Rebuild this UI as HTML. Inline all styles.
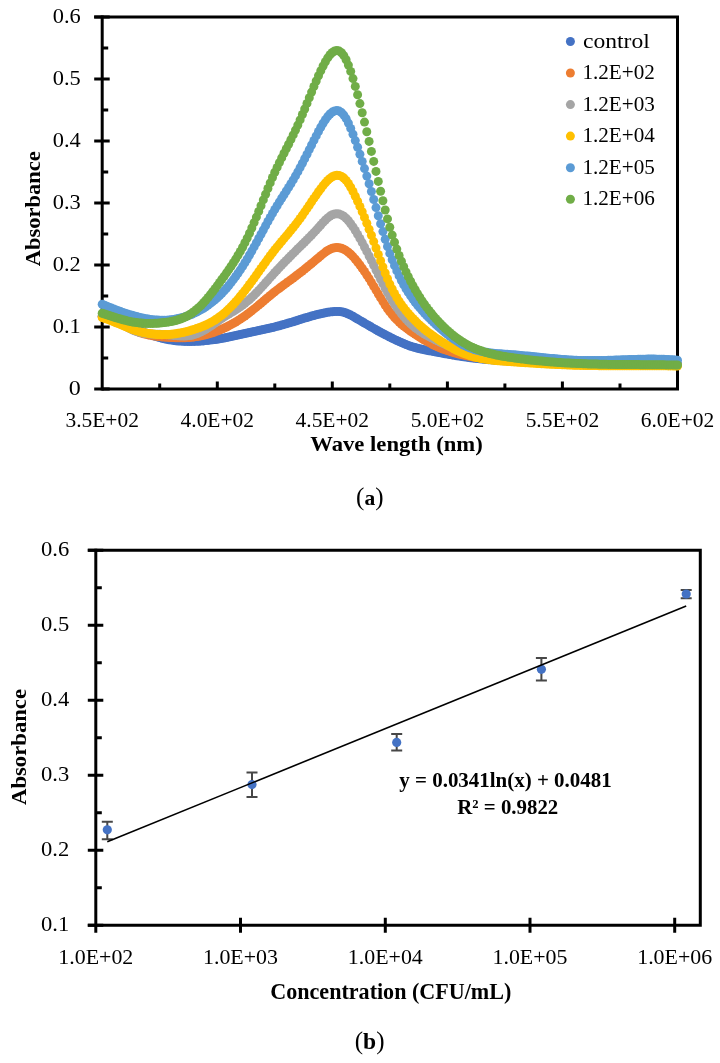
<!DOCTYPE html>
<html><head><meta charset="utf-8"><title>Absorbance charts</title>
<style>html,body{margin:0;padding:0;background:#fff;width:720px;height:1063px;overflow:hidden}svg{will-change:transform}svg text{font-family:'Liberation Serif',serif;fill:#000}</style>
</head><body>
<svg width="720" height="1063" viewBox="0 0 720 1063" style="display:block;font-family:'Liberation Serif',serif">
<path d="M94.2 17.0 H677.5 V389.0 H102.2" fill="none" stroke="#000" stroke-width="3" stroke-linejoin="miter"/><line x1="102.2" y1="15.5" x2="102.2" y2="390.5" stroke="#000" stroke-width="3"/><path d="M94.2 389.0H109.7M94.2 327.0H109.7M94.2 265.0H109.7M94.2 203.0H109.7M94.2 141.0H109.7M94.2 79.0H109.7M94.2 17.0H109.7M102.2 358.0H108.2M102.2 296.0H108.2M102.2 234.0H108.2M102.2 172.0H108.2M102.2 110.0H108.2M102.2 48.0H108.2M217.3 389.0V381.5M332.3 389.0V381.5M447.4 389.0V381.5M562.4 389.0V381.5M159.7 389.0V383.5M274.8 389.0V383.5M389.8 389.0V383.5M504.9 389.0V383.5M620.0 389.0V383.5" stroke="#000" stroke-width="3" fill="none"/><g fill="#4472C4"><circle cx="102.2" cy="316.1" r="4.5"/><circle cx="104.5" cy="316.8" r="4.5"/><circle cx="106.8" cy="317.6" r="4.5"/><circle cx="109.1" cy="318.4" r="4.5"/><circle cx="111.4" cy="319.2" r="4.5"/><circle cx="113.7" cy="320.1" r="4.5"/><circle cx="116.0" cy="320.9" r="4.5"/><circle cx="118.3" cy="321.8" r="4.5"/><circle cx="120.6" cy="322.7" r="4.5"/><circle cx="122.9" cy="323.7" r="4.5"/><circle cx="125.2" cy="324.6" r="4.5"/><circle cx="127.5" cy="325.5" r="4.5"/><circle cx="129.8" cy="326.5" r="4.5"/><circle cx="132.1" cy="327.4" r="4.5"/><circle cx="134.4" cy="328.4" r="4.5"/><circle cx="136.7" cy="329.3" r="4.5"/><circle cx="139.0" cy="330.2" r="4.5"/><circle cx="141.3" cy="331.2" r="4.5"/><circle cx="143.6" cy="332.1" r="4.5"/><circle cx="145.9" cy="332.9" r="4.5"/><circle cx="148.2" cy="333.8" r="4.5"/><circle cx="150.5" cy="334.6" r="4.5"/><circle cx="152.8" cy="335.4" r="4.5"/><circle cx="155.1" cy="336.2" r="4.5"/><circle cx="157.4" cy="336.9" r="4.5"/><circle cx="159.7" cy="337.6" r="4.5"/><circle cx="162.0" cy="338.2" r="4.5"/><circle cx="164.3" cy="338.8" r="4.5"/><circle cx="166.6" cy="339.3" r="4.5"/><circle cx="168.9" cy="339.7" r="4.5"/><circle cx="171.2" cy="340.1" r="4.5"/><circle cx="173.5" cy="340.4" r="4.5"/><circle cx="175.8" cy="340.7" r="4.5"/><circle cx="178.1" cy="341.0" r="4.5"/><circle cx="180.4" cy="341.1" r="4.5"/><circle cx="182.7" cy="341.3" r="4.5"/><circle cx="185.0" cy="341.4" r="4.5"/><circle cx="187.3" cy="341.4" r="4.5"/><circle cx="189.6" cy="341.5" r="4.5"/><circle cx="191.9" cy="341.4" r="4.5"/><circle cx="194.2" cy="341.4" r="4.5"/><circle cx="196.5" cy="341.3" r="4.5"/><circle cx="198.9" cy="341.2" r="4.5"/><circle cx="201.2" cy="341.0" r="4.5"/><circle cx="203.5" cy="340.9" r="4.5"/><circle cx="205.8" cy="340.6" r="4.5"/><circle cx="208.1" cy="340.4" r="4.5"/><circle cx="210.4" cy="340.1" r="4.5"/><circle cx="212.7" cy="339.8" r="4.5"/><circle cx="215.0" cy="339.5" r="4.5"/><circle cx="217.3" cy="339.2" r="4.5"/><circle cx="219.6" cy="338.8" r="4.5"/><circle cx="221.9" cy="338.4" r="4.5"/><circle cx="224.2" cy="338.0" r="4.5"/><circle cx="226.5" cy="337.5" r="4.5"/><circle cx="228.8" cy="337.1" r="4.5"/><circle cx="231.1" cy="336.6" r="4.5"/><circle cx="233.4" cy="336.1" r="4.5"/><circle cx="235.7" cy="335.6" r="4.5"/><circle cx="238.0" cy="335.1" r="4.5"/><circle cx="240.3" cy="334.5" r="4.5"/><circle cx="242.6" cy="334.0" r="4.5"/><circle cx="244.9" cy="333.5" r="4.5"/><circle cx="247.2" cy="333.0" r="4.5"/><circle cx="249.5" cy="332.5" r="4.5"/><circle cx="251.8" cy="332.0" r="4.5"/><circle cx="254.1" cy="331.5" r="4.5"/><circle cx="256.4" cy="331.0" r="4.5"/><circle cx="258.7" cy="330.6" r="4.5"/><circle cx="261.0" cy="330.1" r="4.5"/><circle cx="263.3" cy="329.6" r="4.5"/><circle cx="265.6" cy="329.1" r="4.5"/><circle cx="267.9" cy="328.5" r="4.5"/><circle cx="270.2" cy="328.0" r="4.5"/><circle cx="272.5" cy="327.5" r="4.5"/><circle cx="274.8" cy="326.9" r="4.5"/><circle cx="277.1" cy="326.3" r="4.5"/><circle cx="279.4" cy="325.7" r="4.5"/><circle cx="281.7" cy="325.0" r="4.5"/><circle cx="284.0" cy="324.4" r="4.5"/><circle cx="286.3" cy="323.7" r="4.5"/><circle cx="288.6" cy="323.0" r="4.5"/><circle cx="290.9" cy="322.4" r="4.5"/><circle cx="293.2" cy="321.7" r="4.5"/><circle cx="295.5" cy="321.0" r="4.5"/><circle cx="297.8" cy="320.3" r="4.5"/><circle cx="300.1" cy="319.5" r="4.5"/><circle cx="302.4" cy="318.8" r="4.5"/><circle cx="304.7" cy="318.1" r="4.5"/><circle cx="307.0" cy="317.5" r="4.5"/><circle cx="309.3" cy="316.8" r="4.5"/><circle cx="311.6" cy="316.1" r="4.5"/><circle cx="313.9" cy="315.5" r="4.5"/><circle cx="316.2" cy="314.8" r="4.5"/><circle cx="318.5" cy="314.3" r="4.5"/><circle cx="320.8" cy="313.7" r="4.5"/><circle cx="323.1" cy="313.2" r="4.5"/><circle cx="325.4" cy="312.7" r="4.5"/><circle cx="327.7" cy="312.3" r="4.5"/><circle cx="330.0" cy="311.9" r="4.5"/><circle cx="332.3" cy="311.7" r="4.5"/><circle cx="334.6" cy="311.5" r="4.5"/><circle cx="336.9" cy="311.4" r="4.5"/><circle cx="339.2" cy="311.5" r="4.5"/><circle cx="341.5" cy="311.8" r="4.5"/><circle cx="343.8" cy="312.3" r="4.5"/><circle cx="346.1" cy="313.0" r="4.5"/><circle cx="348.4" cy="314.0" r="4.5"/><circle cx="350.7" cy="315.1" r="4.5"/><circle cx="353.0" cy="316.3" r="4.5"/><circle cx="355.3" cy="317.7" r="4.5"/><circle cx="357.6" cy="319.0" r="4.5"/><circle cx="359.9" cy="320.4" r="4.5"/><circle cx="362.2" cy="321.7" r="4.5"/><circle cx="364.5" cy="323.1" r="4.5"/><circle cx="366.8" cy="324.4" r="4.5"/><circle cx="369.1" cy="325.7" r="4.5"/><circle cx="371.4" cy="327.1" r="4.5"/><circle cx="373.7" cy="328.4" r="4.5"/><circle cx="376.0" cy="329.7" r="4.5"/><circle cx="378.3" cy="331.0" r="4.5"/><circle cx="380.6" cy="332.2" r="4.5"/><circle cx="382.9" cy="333.5" r="4.5"/><circle cx="385.2" cy="334.7" r="4.5"/><circle cx="387.5" cy="335.9" r="4.5"/><circle cx="389.8" cy="337.1" r="4.5"/><circle cx="392.2" cy="338.3" r="4.5"/><circle cx="394.5" cy="339.4" r="4.5"/><circle cx="396.8" cy="340.5" r="4.5"/><circle cx="399.1" cy="341.6" r="4.5"/><circle cx="401.4" cy="342.6" r="4.5"/><circle cx="403.7" cy="343.6" r="4.5"/><circle cx="406.0" cy="344.5" r="4.5"/><circle cx="408.3" cy="345.4" r="4.5"/><circle cx="410.6" cy="346.2" r="4.5"/><circle cx="412.9" cy="346.9" r="4.5"/><circle cx="415.2" cy="347.6" r="4.5"/><circle cx="417.5" cy="348.2" r="4.5"/><circle cx="419.8" cy="348.8" r="4.5"/><circle cx="422.1" cy="349.3" r="4.5"/><circle cx="424.4" cy="349.8" r="4.5"/><circle cx="426.7" cy="350.3" r="4.5"/><circle cx="429.0" cy="350.7" r="4.5"/><circle cx="431.3" cy="351.1" r="4.5"/><circle cx="433.6" cy="351.6" r="4.5"/><circle cx="435.9" cy="352.0" r="4.5"/><circle cx="438.2" cy="352.4" r="4.5"/><circle cx="440.5" cy="352.8" r="4.5"/><circle cx="442.8" cy="353.2" r="4.5"/><circle cx="445.1" cy="353.7" r="4.5"/><circle cx="447.4" cy="354.1" r="4.5"/><circle cx="449.7" cy="354.5" r="4.5"/><circle cx="452.0" cy="354.9" r="4.5"/><circle cx="454.3" cy="355.3" r="4.5"/><circle cx="456.6" cy="355.7" r="4.5"/><circle cx="458.9" cy="356.1" r="4.5"/><circle cx="461.2" cy="356.4" r="4.5"/><circle cx="463.5" cy="356.8" r="4.5"/><circle cx="465.8" cy="357.1" r="4.5"/><circle cx="468.1" cy="357.4" r="4.5"/><circle cx="470.4" cy="357.7" r="4.5"/><circle cx="472.7" cy="358.0" r="4.5"/><circle cx="475.0" cy="358.3" r="4.5"/><circle cx="477.3" cy="358.5" r="4.5"/><circle cx="479.6" cy="358.8" r="4.5"/><circle cx="481.9" cy="359.0" r="4.5"/><circle cx="484.2" cy="359.3" r="4.5"/><circle cx="486.5" cy="359.5" r="4.5"/><circle cx="488.8" cy="359.7" r="4.5"/><circle cx="491.1" cy="359.8" r="4.5"/><circle cx="493.4" cy="360.0" r="4.5"/><circle cx="495.7" cy="360.2" r="4.5"/><circle cx="498.0" cy="360.4" r="4.5"/><circle cx="500.3" cy="360.5" r="4.5"/><circle cx="502.6" cy="360.7" r="4.5"/><circle cx="504.9" cy="360.8" r="4.5"/><circle cx="507.2" cy="360.9" r="4.5"/><circle cx="509.5" cy="361.1" r="4.5"/><circle cx="511.8" cy="361.2" r="4.5"/><circle cx="514.1" cy="361.3" r="4.5"/><circle cx="516.4" cy="361.4" r="4.5"/><circle cx="518.7" cy="361.5" r="4.5"/><circle cx="521.0" cy="361.6" r="4.5"/><circle cx="523.3" cy="361.7" r="4.5"/><circle cx="525.6" cy="361.8" r="4.5"/><circle cx="527.9" cy="361.9" r="4.5"/><circle cx="530.2" cy="362.0" r="4.5"/><circle cx="532.5" cy="362.1" r="4.5"/><circle cx="534.8" cy="362.1" r="4.5"/><circle cx="537.1" cy="362.2" r="4.5"/><circle cx="539.4" cy="362.3" r="4.5"/><circle cx="541.7" cy="362.4" r="4.5"/><circle cx="544.0" cy="362.4" r="4.5"/><circle cx="546.3" cy="362.5" r="4.5"/><circle cx="548.6" cy="362.5" r="4.5"/><circle cx="550.9" cy="362.6" r="4.5"/><circle cx="553.2" cy="362.6" r="4.5"/><circle cx="555.5" cy="362.7" r="4.5"/><circle cx="557.8" cy="362.7" r="4.5"/><circle cx="560.1" cy="362.8" r="4.5"/><circle cx="562.4" cy="362.8" r="4.5"/><circle cx="564.7" cy="362.9" r="4.5"/><circle cx="567.0" cy="362.9" r="4.5"/><circle cx="569.3" cy="362.9" r="4.5"/><circle cx="571.6" cy="363.0" r="4.5"/><circle cx="573.9" cy="363.0" r="4.5"/><circle cx="576.2" cy="363.0" r="4.5"/><circle cx="578.5" cy="363.1" r="4.5"/><circle cx="580.8" cy="363.1" r="4.5"/><circle cx="583.2" cy="363.1" r="4.5"/><circle cx="585.5" cy="363.1" r="4.5"/><circle cx="587.8" cy="363.2" r="4.5"/><circle cx="590.1" cy="363.2" r="4.5"/><circle cx="592.4" cy="363.2" r="4.5"/><circle cx="594.7" cy="363.2" r="4.5"/><circle cx="597.0" cy="363.3" r="4.5"/><circle cx="599.3" cy="363.3" r="4.5"/><circle cx="601.6" cy="363.3" r="4.5"/><circle cx="603.9" cy="363.3" r="4.5"/><circle cx="606.2" cy="363.3" r="4.5"/><circle cx="608.5" cy="363.4" r="4.5"/><circle cx="610.8" cy="363.4" r="4.5"/><circle cx="613.1" cy="363.4" r="4.5"/><circle cx="615.4" cy="363.4" r="4.5"/><circle cx="617.7" cy="363.4" r="4.5"/><circle cx="620.0" cy="363.5" r="4.5"/><circle cx="622.3" cy="363.5" r="4.5"/><circle cx="624.6" cy="363.5" r="4.5"/><circle cx="626.9" cy="363.5" r="4.5"/><circle cx="629.2" cy="363.5" r="4.5"/><circle cx="631.5" cy="363.5" r="4.5"/><circle cx="633.8" cy="363.6" r="4.5"/><circle cx="636.1" cy="363.6" r="4.5"/><circle cx="638.4" cy="363.6" r="4.5"/><circle cx="640.7" cy="363.6" r="4.5"/><circle cx="643.0" cy="363.6" r="4.5"/><circle cx="645.3" cy="363.7" r="4.5"/><circle cx="647.6" cy="363.7" r="4.5"/><circle cx="649.9" cy="363.7" r="4.5"/><circle cx="652.2" cy="363.7" r="4.5"/><circle cx="654.5" cy="363.7" r="4.5"/><circle cx="656.8" cy="363.8" r="4.5"/><circle cx="659.1" cy="363.8" r="4.5"/><circle cx="661.4" cy="363.8" r="4.5"/><circle cx="663.7" cy="363.8" r="4.5"/><circle cx="666.0" cy="363.9" r="4.5"/><circle cx="668.3" cy="363.9" r="4.5"/><circle cx="670.6" cy="363.9" r="4.5"/><circle cx="672.9" cy="363.9" r="4.5"/><circle cx="675.2" cy="364.0" r="4.5"/><circle cx="677.5" cy="364.0" r="4.5"/></g><g fill="#ED7D31"><circle cx="102.2" cy="316.5" r="4.5"/><circle cx="104.5" cy="316.9" r="4.5"/><circle cx="106.8" cy="317.4" r="4.5"/><circle cx="109.1" cy="318.1" r="4.5"/><circle cx="111.4" cy="318.9" r="4.5"/><circle cx="113.7" cy="319.9" r="4.5"/><circle cx="116.0" cy="320.9" r="4.5"/><circle cx="118.3" cy="322.1" r="4.5"/><circle cx="120.6" cy="323.3" r="4.5"/><circle cx="122.9" cy="324.5" r="4.5"/><circle cx="125.2" cy="325.8" r="4.5"/><circle cx="127.5" cy="327.0" r="4.5"/><circle cx="129.8" cy="328.2" r="4.5"/><circle cx="132.1" cy="329.3" r="4.5"/><circle cx="134.4" cy="330.4" r="4.5"/><circle cx="136.7" cy="331.4" r="4.5"/><circle cx="139.0" cy="332.3" r="4.5"/><circle cx="141.3" cy="333.0" r="4.5"/><circle cx="143.6" cy="333.7" r="4.5"/><circle cx="145.9" cy="334.3" r="4.5"/><circle cx="148.2" cy="334.9" r="4.5"/><circle cx="150.5" cy="335.3" r="4.5"/><circle cx="152.8" cy="335.7" r="4.5"/><circle cx="155.1" cy="336.1" r="4.5"/><circle cx="157.4" cy="336.4" r="4.5"/><circle cx="159.7" cy="336.6" r="4.5"/><circle cx="162.0" cy="336.9" r="4.5"/><circle cx="164.3" cy="337.1" r="4.5"/><circle cx="166.6" cy="337.2" r="4.5"/><circle cx="168.9" cy="337.4" r="4.5"/><circle cx="171.2" cy="337.5" r="4.5"/><circle cx="173.5" cy="337.6" r="4.5"/><circle cx="175.8" cy="337.7" r="4.5"/><circle cx="178.1" cy="337.8" r="4.5"/><circle cx="180.4" cy="337.8" r="4.5"/><circle cx="182.7" cy="337.7" r="4.5"/><circle cx="185.0" cy="337.7" r="4.5"/><circle cx="187.3" cy="337.6" r="4.5"/><circle cx="189.6" cy="337.4" r="4.5"/><circle cx="191.9" cy="337.2" r="4.5"/><circle cx="194.2" cy="336.9" r="4.5"/><circle cx="196.5" cy="336.6" r="4.5"/><circle cx="198.9" cy="336.2" r="4.5"/><circle cx="201.2" cy="335.8" r="4.5"/><circle cx="203.5" cy="335.3" r="4.5"/><circle cx="205.8" cy="334.7" r="4.5"/><circle cx="208.1" cy="334.1" r="4.5"/><circle cx="210.4" cy="333.4" r="4.5"/><circle cx="212.7" cy="332.7" r="4.5"/><circle cx="215.0" cy="331.9" r="4.5"/><circle cx="217.3" cy="331.0" r="4.5"/><circle cx="219.6" cy="330.1" r="4.5"/><circle cx="221.9" cy="329.1" r="4.5"/><circle cx="224.2" cy="328.1" r="4.5"/><circle cx="226.5" cy="327.0" r="4.5"/><circle cx="228.8" cy="325.8" r="4.5"/><circle cx="231.1" cy="324.6" r="4.5"/><circle cx="233.4" cy="323.3" r="4.5"/><circle cx="235.7" cy="322.0" r="4.5"/><circle cx="238.0" cy="320.6" r="4.5"/><circle cx="240.3" cy="319.1" r="4.5"/><circle cx="242.6" cy="317.6" r="4.5"/><circle cx="244.9" cy="316.0" r="4.5"/><circle cx="247.2" cy="314.3" r="4.5"/><circle cx="249.5" cy="312.6" r="4.5"/><circle cx="251.8" cy="310.8" r="4.5"/><circle cx="254.1" cy="308.9" r="4.5"/><circle cx="256.4" cy="307.1" r="4.5"/><circle cx="258.7" cy="305.1" r="4.5"/><circle cx="261.0" cy="303.2" r="4.5"/><circle cx="263.3" cy="301.3" r="4.5"/><circle cx="265.6" cy="299.3" r="4.5"/><circle cx="267.9" cy="297.4" r="4.5"/><circle cx="270.2" cy="295.5" r="4.5"/><circle cx="272.5" cy="293.6" r="4.5"/><circle cx="274.8" cy="291.7" r="4.5"/><circle cx="277.1" cy="289.9" r="4.5"/><circle cx="279.4" cy="288.2" r="4.5"/><circle cx="281.7" cy="286.5" r="4.5"/><circle cx="284.0" cy="284.8" r="4.5"/><circle cx="286.3" cy="283.1" r="4.5"/><circle cx="288.6" cy="281.4" r="4.5"/><circle cx="290.9" cy="279.7" r="4.5"/><circle cx="293.2" cy="278.0" r="4.5"/><circle cx="295.5" cy="276.3" r="4.5"/><circle cx="297.8" cy="274.5" r="4.5"/><circle cx="300.1" cy="272.8" r="4.5"/><circle cx="302.4" cy="271.0" r="4.5"/><circle cx="304.7" cy="269.1" r="4.5"/><circle cx="307.0" cy="267.3" r="4.5"/><circle cx="309.3" cy="265.4" r="4.5"/><circle cx="311.6" cy="263.5" r="4.5"/><circle cx="313.9" cy="261.6" r="4.5"/><circle cx="316.2" cy="259.6" r="4.5"/><circle cx="318.5" cy="257.7" r="4.5"/><circle cx="320.8" cy="255.7" r="4.5"/><circle cx="323.1" cy="253.9" r="4.5"/><circle cx="325.4" cy="252.1" r="4.5"/><circle cx="327.7" cy="250.5" r="4.5"/><circle cx="330.0" cy="249.3" r="4.5"/><circle cx="332.3" cy="248.3" r="4.5"/><circle cx="334.6" cy="247.7" r="4.5"/><circle cx="336.9" cy="247.5" r="4.5"/><circle cx="339.2" cy="247.7" r="4.5"/><circle cx="341.5" cy="248.3" r="4.5"/><circle cx="343.8" cy="249.2" r="4.5"/><circle cx="346.1" cy="250.6" r="4.5"/><circle cx="348.4" cy="252.3" r="4.5"/><circle cx="350.7" cy="254.3" r="4.5"/><circle cx="353.0" cy="256.6" r="4.5"/><circle cx="355.3" cy="259.2" r="4.5"/><circle cx="357.6" cy="262.0" r="4.5"/><circle cx="359.9" cy="265.0" r="4.5"/><circle cx="362.2" cy="268.2" r="4.5"/><circle cx="364.5" cy="271.5" r="4.5"/><circle cx="366.8" cy="275.0" r="4.5"/><circle cx="369.1" cy="278.6" r="4.5"/><circle cx="371.4" cy="282.4" r="4.5"/><circle cx="373.7" cy="286.2" r="4.5"/><circle cx="376.0" cy="290.1" r="4.5"/><circle cx="378.3" cy="294.0" r="4.5"/><circle cx="380.6" cy="297.9" r="4.5"/><circle cx="382.9" cy="301.6" r="4.5"/><circle cx="385.2" cy="305.2" r="4.5"/><circle cx="387.5" cy="308.7" r="4.5"/><circle cx="389.8" cy="311.9" r="4.5"/><circle cx="392.2" cy="314.8" r="4.5"/><circle cx="394.5" cy="317.5" r="4.5"/><circle cx="396.8" cy="319.9" r="4.5"/><circle cx="399.1" cy="322.1" r="4.5"/><circle cx="401.4" cy="324.2" r="4.5"/><circle cx="403.7" cy="326.1" r="4.5"/><circle cx="406.0" cy="327.9" r="4.5"/><circle cx="408.3" cy="329.6" r="4.5"/><circle cx="410.6" cy="331.2" r="4.5"/><circle cx="412.9" cy="332.8" r="4.5"/><circle cx="415.2" cy="334.3" r="4.5"/><circle cx="417.5" cy="335.8" r="4.5"/><circle cx="419.8" cy="337.3" r="4.5"/><circle cx="422.1" cy="338.7" r="4.5"/><circle cx="424.4" cy="340.1" r="4.5"/><circle cx="426.7" cy="341.4" r="4.5"/><circle cx="429.0" cy="342.6" r="4.5"/><circle cx="431.3" cy="343.8" r="4.5"/><circle cx="433.6" cy="345.0" r="4.5"/><circle cx="435.9" cy="346.1" r="4.5"/><circle cx="438.2" cy="347.1" r="4.5"/><circle cx="440.5" cy="348.0" r="4.5"/><circle cx="442.8" cy="349.0" r="4.5"/><circle cx="445.1" cy="349.8" r="4.5"/><circle cx="447.4" cy="350.6" r="4.5"/><circle cx="449.7" cy="351.4" r="4.5"/><circle cx="452.0" cy="352.1" r="4.5"/><circle cx="454.3" cy="352.8" r="4.5"/><circle cx="456.6" cy="353.4" r="4.5"/><circle cx="458.9" cy="354.0" r="4.5"/><circle cx="461.2" cy="354.5" r="4.5"/><circle cx="463.5" cy="355.1" r="4.5"/><circle cx="465.8" cy="355.6" r="4.5"/><circle cx="468.1" cy="356.0" r="4.5"/><circle cx="470.4" cy="356.4" r="4.5"/><circle cx="472.7" cy="356.9" r="4.5"/><circle cx="475.0" cy="357.2" r="4.5"/><circle cx="477.3" cy="357.6" r="4.5"/><circle cx="479.6" cy="357.9" r="4.5"/><circle cx="481.9" cy="358.2" r="4.5"/><circle cx="484.2" cy="358.5" r="4.5"/><circle cx="486.5" cy="358.8" r="4.5"/><circle cx="488.8" cy="359.1" r="4.5"/><circle cx="491.1" cy="359.3" r="4.5"/><circle cx="493.4" cy="359.5" r="4.5"/><circle cx="495.7" cy="359.7" r="4.5"/><circle cx="498.0" cy="359.9" r="4.5"/><circle cx="500.3" cy="360.1" r="4.5"/><circle cx="502.6" cy="360.3" r="4.5"/><circle cx="504.9" cy="360.5" r="4.5"/><circle cx="507.2" cy="360.6" r="4.5"/><circle cx="509.5" cy="360.8" r="4.5"/><circle cx="511.8" cy="361.0" r="4.5"/><circle cx="514.1" cy="361.1" r="4.5"/><circle cx="516.4" cy="361.3" r="4.5"/><circle cx="518.7" cy="361.4" r="4.5"/><circle cx="521.0" cy="361.6" r="4.5"/><circle cx="523.3" cy="361.7" r="4.5"/><circle cx="525.6" cy="361.8" r="4.5"/><circle cx="527.9" cy="362.0" r="4.5"/><circle cx="530.2" cy="362.1" r="4.5"/><circle cx="532.5" cy="362.2" r="4.5"/><circle cx="534.8" cy="362.4" r="4.5"/><circle cx="537.1" cy="362.5" r="4.5"/><circle cx="539.4" cy="362.6" r="4.5"/><circle cx="541.7" cy="362.7" r="4.5"/><circle cx="544.0" cy="362.8" r="4.5"/><circle cx="546.3" cy="363.0" r="4.5"/><circle cx="548.6" cy="363.1" r="4.5"/><circle cx="550.9" cy="363.2" r="4.5"/><circle cx="553.2" cy="363.3" r="4.5"/><circle cx="555.5" cy="363.3" r="4.5"/><circle cx="557.8" cy="363.4" r="4.5"/><circle cx="560.1" cy="363.5" r="4.5"/><circle cx="562.4" cy="363.6" r="4.5"/><circle cx="564.7" cy="363.7" r="4.5"/><circle cx="567.0" cy="363.8" r="4.5"/><circle cx="569.3" cy="363.8" r="4.5"/><circle cx="571.6" cy="363.9" r="4.5"/><circle cx="573.9" cy="364.0" r="4.5"/><circle cx="576.2" cy="364.0" r="4.5"/><circle cx="578.5" cy="364.1" r="4.5"/><circle cx="580.8" cy="364.1" r="4.5"/><circle cx="583.2" cy="364.2" r="4.5"/><circle cx="585.5" cy="364.2" r="4.5"/><circle cx="587.8" cy="364.2" r="4.5"/><circle cx="590.1" cy="364.3" r="4.5"/><circle cx="592.4" cy="364.3" r="4.5"/><circle cx="594.7" cy="364.3" r="4.5"/><circle cx="597.0" cy="364.4" r="4.5"/><circle cx="599.3" cy="364.4" r="4.5"/><circle cx="601.6" cy="364.4" r="4.5"/><circle cx="603.9" cy="364.4" r="4.5"/><circle cx="606.2" cy="364.4" r="4.5"/><circle cx="608.5" cy="364.4" r="4.5"/><circle cx="610.8" cy="364.5" r="4.5"/><circle cx="613.1" cy="364.5" r="4.5"/><circle cx="615.4" cy="364.5" r="4.5"/><circle cx="617.7" cy="364.5" r="4.5"/><circle cx="620.0" cy="364.5" r="4.5"/><circle cx="622.3" cy="364.5" r="4.5"/><circle cx="624.6" cy="364.5" r="4.5"/><circle cx="626.9" cy="364.5" r="4.5"/><circle cx="629.2" cy="364.5" r="4.5"/><circle cx="631.5" cy="364.5" r="4.5"/><circle cx="633.8" cy="364.5" r="4.5"/><circle cx="636.1" cy="364.5" r="4.5"/><circle cx="638.4" cy="364.5" r="4.5"/><circle cx="640.7" cy="364.6" r="4.5"/><circle cx="643.0" cy="364.6" r="4.5"/><circle cx="645.3" cy="364.6" r="4.5"/><circle cx="647.6" cy="364.6" r="4.5"/><circle cx="649.9" cy="364.6" r="4.5"/><circle cx="652.2" cy="364.6" r="4.5"/><circle cx="654.5" cy="364.6" r="4.5"/><circle cx="656.8" cy="364.7" r="4.5"/><circle cx="659.1" cy="364.7" r="4.5"/><circle cx="661.4" cy="364.7" r="4.5"/><circle cx="663.7" cy="364.8" r="4.5"/><circle cx="666.0" cy="364.8" r="4.5"/><circle cx="668.3" cy="364.8" r="4.5"/><circle cx="670.6" cy="364.9" r="4.5"/><circle cx="672.9" cy="364.9" r="4.5"/><circle cx="675.2" cy="365.0" r="4.5"/><circle cx="677.5" cy="365.0" r="4.5"/></g><g fill="#A5A5A5"><circle cx="102.2" cy="316.5" r="4.5"/><circle cx="104.5" cy="316.6" r="4.5"/><circle cx="106.8" cy="317.1" r="4.5"/><circle cx="109.1" cy="317.7" r="4.5"/><circle cx="111.4" cy="318.5" r="4.5"/><circle cx="113.7" cy="319.5" r="4.5"/><circle cx="116.0" cy="320.7" r="4.5"/><circle cx="118.3" cy="321.9" r="4.5"/><circle cx="120.6" cy="323.2" r="4.5"/><circle cx="122.9" cy="324.6" r="4.5"/><circle cx="125.2" cy="325.9" r="4.5"/><circle cx="127.5" cy="327.3" r="4.5"/><circle cx="129.8" cy="328.5" r="4.5"/><circle cx="132.1" cy="329.7" r="4.5"/><circle cx="134.4" cy="330.7" r="4.5"/><circle cx="136.7" cy="331.6" r="4.5"/><circle cx="139.0" cy="332.3" r="4.5"/><circle cx="141.3" cy="332.8" r="4.5"/><circle cx="143.6" cy="333.3" r="4.5"/><circle cx="145.9" cy="333.6" r="4.5"/><circle cx="148.2" cy="333.8" r="4.5"/><circle cx="150.5" cy="334.0" r="4.5"/><circle cx="152.8" cy="334.1" r="4.5"/><circle cx="155.1" cy="334.2" r="4.5"/><circle cx="157.4" cy="334.3" r="4.5"/><circle cx="159.7" cy="334.3" r="4.5"/><circle cx="162.0" cy="334.4" r="4.5"/><circle cx="164.3" cy="334.5" r="4.5"/><circle cx="166.6" cy="334.7" r="4.5"/><circle cx="168.9" cy="334.9" r="4.5"/><circle cx="171.2" cy="335.1" r="4.5"/><circle cx="173.5" cy="335.4" r="4.5"/><circle cx="175.8" cy="335.6" r="4.5"/><circle cx="178.1" cy="335.8" r="4.5"/><circle cx="180.4" cy="335.9" r="4.5"/><circle cx="182.7" cy="336.0" r="4.5"/><circle cx="185.0" cy="336.0" r="4.5"/><circle cx="187.3" cy="335.8" r="4.5"/><circle cx="189.6" cy="335.6" r="4.5"/><circle cx="191.9" cy="335.2" r="4.5"/><circle cx="194.2" cy="334.6" r="4.5"/><circle cx="196.5" cy="333.8" r="4.5"/><circle cx="198.9" cy="332.9" r="4.5"/><circle cx="201.2" cy="331.8" r="4.5"/><circle cx="203.5" cy="330.6" r="4.5"/><circle cx="205.8" cy="329.2" r="4.5"/><circle cx="208.1" cy="327.8" r="4.5"/><circle cx="210.4" cy="326.3" r="4.5"/><circle cx="212.7" cy="324.7" r="4.5"/><circle cx="215.0" cy="323.1" r="4.5"/><circle cx="217.3" cy="321.5" r="4.5"/><circle cx="219.6" cy="319.9" r="4.5"/><circle cx="221.9" cy="318.4" r="4.5"/><circle cx="224.2" cy="316.9" r="4.5"/><circle cx="226.5" cy="315.4" r="4.5"/><circle cx="228.8" cy="314.0" r="4.5"/><circle cx="231.1" cy="312.6" r="4.5"/><circle cx="233.4" cy="311.2" r="4.5"/><circle cx="235.7" cy="309.7" r="4.5"/><circle cx="238.0" cy="308.2" r="4.5"/><circle cx="240.3" cy="306.7" r="4.5"/><circle cx="242.6" cy="305.0" r="4.5"/><circle cx="244.9" cy="303.3" r="4.5"/><circle cx="247.2" cy="301.4" r="4.5"/><circle cx="249.5" cy="299.5" r="4.5"/><circle cx="251.8" cy="297.3" r="4.5"/><circle cx="254.1" cy="295.1" r="4.5"/><circle cx="256.4" cy="292.8" r="4.5"/><circle cx="258.7" cy="290.4" r="4.5"/><circle cx="261.0" cy="287.9" r="4.5"/><circle cx="263.3" cy="285.4" r="4.5"/><circle cx="265.6" cy="282.8" r="4.5"/><circle cx="267.9" cy="280.2" r="4.5"/><circle cx="270.2" cy="277.6" r="4.5"/><circle cx="272.5" cy="275.1" r="4.5"/><circle cx="274.8" cy="272.5" r="4.5"/><circle cx="277.1" cy="270.0" r="4.5"/><circle cx="279.4" cy="267.6" r="4.5"/><circle cx="281.7" cy="265.1" r="4.5"/><circle cx="284.0" cy="262.7" r="4.5"/><circle cx="286.3" cy="260.4" r="4.5"/><circle cx="288.6" cy="258.0" r="4.5"/><circle cx="290.9" cy="255.7" r="4.5"/><circle cx="293.2" cy="253.4" r="4.5"/><circle cx="295.5" cy="251.1" r="4.5"/><circle cx="297.8" cy="248.8" r="4.5"/><circle cx="300.1" cy="246.6" r="4.5"/><circle cx="302.4" cy="244.3" r="4.5"/><circle cx="304.7" cy="242.0" r="4.5"/><circle cx="307.0" cy="239.7" r="4.5"/><circle cx="309.3" cy="237.4" r="4.5"/><circle cx="311.6" cy="235.0" r="4.5"/><circle cx="313.9" cy="232.6" r="4.5"/><circle cx="316.2" cy="230.1" r="4.5"/><circle cx="318.5" cy="227.6" r="4.5"/><circle cx="320.8" cy="225.0" r="4.5"/><circle cx="323.1" cy="222.4" r="4.5"/><circle cx="325.4" cy="220.0" r="4.5"/><circle cx="327.7" cy="217.9" r="4.5"/><circle cx="330.0" cy="216.1" r="4.5"/><circle cx="332.3" cy="214.8" r="4.5"/><circle cx="334.6" cy="214.0" r="4.5"/><circle cx="336.9" cy="213.7" r="4.5"/><circle cx="339.2" cy="214.1" r="4.5"/><circle cx="341.5" cy="214.9" r="4.5"/><circle cx="343.8" cy="216.3" r="4.5"/><circle cx="346.1" cy="218.3" r="4.5"/><circle cx="348.4" cy="220.8" r="4.5"/><circle cx="350.7" cy="223.7" r="4.5"/><circle cx="353.0" cy="226.9" r="4.5"/><circle cx="355.3" cy="230.5" r="4.5"/><circle cx="357.6" cy="234.4" r="4.5"/><circle cx="359.9" cy="238.4" r="4.5"/><circle cx="362.2" cy="242.6" r="4.5"/><circle cx="364.5" cy="247.0" r="4.5"/><circle cx="366.8" cy="251.4" r="4.5"/><circle cx="369.1" cy="256.0" r="4.5"/><circle cx="371.4" cy="260.6" r="4.5"/><circle cx="373.7" cy="265.3" r="4.5"/><circle cx="376.0" cy="270.0" r="4.5"/><circle cx="378.3" cy="274.7" r="4.5"/><circle cx="380.6" cy="279.4" r="4.5"/><circle cx="382.9" cy="283.9" r="4.5"/><circle cx="385.2" cy="288.3" r="4.5"/><circle cx="387.5" cy="292.6" r="4.5"/><circle cx="389.8" cy="296.7" r="4.5"/><circle cx="392.2" cy="300.5" r="4.5"/><circle cx="394.5" cy="304.1" r="4.5"/><circle cx="396.8" cy="307.5" r="4.5"/><circle cx="399.1" cy="310.7" r="4.5"/><circle cx="401.4" cy="313.7" r="4.5"/><circle cx="403.7" cy="316.5" r="4.5"/><circle cx="406.0" cy="319.1" r="4.5"/><circle cx="408.3" cy="321.5" r="4.5"/><circle cx="410.6" cy="323.7" r="4.5"/><circle cx="412.9" cy="325.8" r="4.5"/><circle cx="415.2" cy="327.7" r="4.5"/><circle cx="417.5" cy="329.4" r="4.5"/><circle cx="419.8" cy="331.1" r="4.5"/><circle cx="422.1" cy="332.6" r="4.5"/><circle cx="424.4" cy="334.0" r="4.5"/><circle cx="426.7" cy="335.3" r="4.5"/><circle cx="429.0" cy="336.5" r="4.5"/><circle cx="431.3" cy="337.7" r="4.5"/><circle cx="433.6" cy="338.9" r="4.5"/><circle cx="435.9" cy="340.0" r="4.5"/><circle cx="438.2" cy="341.1" r="4.5"/><circle cx="440.5" cy="342.2" r="4.5"/><circle cx="442.8" cy="343.2" r="4.5"/><circle cx="445.1" cy="344.3" r="4.5"/><circle cx="447.4" cy="345.3" r="4.5"/><circle cx="449.7" cy="346.3" r="4.5"/><circle cx="452.0" cy="347.2" r="4.5"/><circle cx="454.3" cy="348.2" r="4.5"/><circle cx="456.6" cy="349.1" r="4.5"/><circle cx="458.9" cy="349.9" r="4.5"/><circle cx="461.2" cy="350.8" r="4.5"/><circle cx="463.5" cy="351.5" r="4.5"/><circle cx="465.8" cy="352.3" r="4.5"/><circle cx="468.1" cy="353.0" r="4.5"/><circle cx="470.4" cy="353.7" r="4.5"/><circle cx="472.7" cy="354.3" r="4.5"/><circle cx="475.0" cy="354.9" r="4.5"/><circle cx="477.3" cy="355.5" r="4.5"/><circle cx="479.6" cy="356.0" r="4.5"/><circle cx="481.9" cy="356.5" r="4.5"/><circle cx="484.2" cy="357.0" r="4.5"/><circle cx="486.5" cy="357.4" r="4.5"/><circle cx="488.8" cy="357.8" r="4.5"/><circle cx="491.1" cy="358.2" r="4.5"/><circle cx="493.4" cy="358.6" r="4.5"/><circle cx="495.7" cy="358.9" r="4.5"/><circle cx="498.0" cy="359.2" r="4.5"/><circle cx="500.3" cy="359.5" r="4.5"/><circle cx="502.6" cy="359.8" r="4.5"/><circle cx="504.9" cy="360.1" r="4.5"/><circle cx="507.2" cy="360.4" r="4.5"/><circle cx="509.5" cy="360.6" r="4.5"/><circle cx="511.8" cy="360.8" r="4.5"/><circle cx="514.1" cy="361.0" r="4.5"/><circle cx="516.4" cy="361.2" r="4.5"/><circle cx="518.7" cy="361.4" r="4.5"/><circle cx="521.0" cy="361.6" r="4.5"/><circle cx="523.3" cy="361.8" r="4.5"/><circle cx="525.6" cy="362.0" r="4.5"/><circle cx="527.9" cy="362.1" r="4.5"/><circle cx="530.2" cy="362.3" r="4.5"/><circle cx="532.5" cy="362.4" r="4.5"/><circle cx="534.8" cy="362.5" r="4.5"/><circle cx="537.1" cy="362.7" r="4.5"/><circle cx="539.4" cy="362.8" r="4.5"/><circle cx="541.7" cy="362.9" r="4.5"/><circle cx="544.0" cy="363.0" r="4.5"/><circle cx="546.3" cy="363.1" r="4.5"/><circle cx="548.6" cy="363.2" r="4.5"/><circle cx="550.9" cy="363.3" r="4.5"/><circle cx="553.2" cy="363.3" r="4.5"/><circle cx="555.5" cy="363.4" r="4.5"/><circle cx="557.8" cy="363.5" r="4.5"/><circle cx="560.1" cy="363.5" r="4.5"/><circle cx="562.4" cy="363.6" r="4.5"/><circle cx="564.7" cy="363.7" r="4.5"/><circle cx="567.0" cy="363.7" r="4.5"/><circle cx="569.3" cy="363.8" r="4.5"/><circle cx="571.6" cy="363.8" r="4.5"/><circle cx="573.9" cy="363.8" r="4.5"/><circle cx="576.2" cy="363.9" r="4.5"/><circle cx="578.5" cy="363.9" r="4.5"/><circle cx="580.8" cy="364.0" r="4.5"/><circle cx="583.2" cy="364.0" r="4.5"/><circle cx="585.5" cy="364.0" r="4.5"/><circle cx="587.8" cy="364.1" r="4.5"/><circle cx="590.1" cy="364.1" r="4.5"/><circle cx="592.4" cy="364.1" r="4.5"/><circle cx="594.7" cy="364.2" r="4.5"/><circle cx="597.0" cy="364.2" r="4.5"/><circle cx="599.3" cy="364.2" r="4.5"/><circle cx="601.6" cy="364.2" r="4.5"/><circle cx="603.9" cy="364.3" r="4.5"/><circle cx="606.2" cy="364.3" r="4.5"/><circle cx="608.5" cy="364.3" r="4.5"/><circle cx="610.8" cy="364.4" r="4.5"/><circle cx="613.1" cy="364.4" r="4.5"/><circle cx="615.4" cy="364.4" r="4.5"/><circle cx="617.7" cy="364.4" r="4.5"/><circle cx="620.0" cy="364.5" r="4.5"/><circle cx="622.3" cy="364.5" r="4.5"/><circle cx="624.6" cy="364.5" r="4.5"/><circle cx="626.9" cy="364.5" r="4.5"/><circle cx="629.2" cy="364.5" r="4.5"/><circle cx="631.5" cy="364.6" r="4.5"/><circle cx="633.8" cy="364.6" r="4.5"/><circle cx="636.1" cy="364.6" r="4.5"/><circle cx="638.4" cy="364.6" r="4.5"/><circle cx="640.7" cy="364.6" r="4.5"/><circle cx="643.0" cy="364.7" r="4.5"/><circle cx="645.3" cy="364.7" r="4.5"/><circle cx="647.6" cy="364.7" r="4.5"/><circle cx="649.9" cy="364.7" r="4.5"/><circle cx="652.2" cy="364.7" r="4.5"/><circle cx="654.5" cy="364.8" r="4.5"/><circle cx="656.8" cy="364.8" r="4.5"/><circle cx="659.1" cy="364.8" r="4.5"/><circle cx="661.4" cy="364.8" r="4.5"/><circle cx="663.7" cy="364.9" r="4.5"/><circle cx="666.0" cy="364.9" r="4.5"/><circle cx="668.3" cy="364.9" r="4.5"/><circle cx="670.6" cy="364.9" r="4.5"/><circle cx="672.9" cy="364.9" r="4.5"/><circle cx="675.2" cy="365.0" r="4.5"/><circle cx="677.5" cy="365.0" r="4.5"/></g><g fill="#FFC000"><circle cx="102.2" cy="317.5" r="4.5"/><circle cx="104.5" cy="318.3" r="4.5"/><circle cx="106.8" cy="319.1" r="4.5"/><circle cx="109.1" cy="319.9" r="4.5"/><circle cx="111.4" cy="320.8" r="4.5"/><circle cx="113.7" cy="321.7" r="4.5"/><circle cx="116.0" cy="322.7" r="4.5"/><circle cx="118.3" cy="323.6" r="4.5"/><circle cx="120.6" cy="324.6" r="4.5"/><circle cx="122.9" cy="325.6" r="4.5"/><circle cx="125.2" cy="326.5" r="4.5"/><circle cx="127.5" cy="327.4" r="4.5"/><circle cx="129.8" cy="328.3" r="4.5"/><circle cx="132.1" cy="329.2" r="4.5"/><circle cx="134.4" cy="330.0" r="4.5"/><circle cx="136.7" cy="330.7" r="4.5"/><circle cx="139.0" cy="331.4" r="4.5"/><circle cx="141.3" cy="332.0" r="4.5"/><circle cx="143.6" cy="332.5" r="4.5"/><circle cx="145.9" cy="333.0" r="4.5"/><circle cx="148.2" cy="333.4" r="4.5"/><circle cx="150.5" cy="333.8" r="4.5"/><circle cx="152.8" cy="334.1" r="4.5"/><circle cx="155.1" cy="334.3" r="4.5"/><circle cx="157.4" cy="334.5" r="4.5"/><circle cx="159.7" cy="334.6" r="4.5"/><circle cx="162.0" cy="334.7" r="4.5"/><circle cx="164.3" cy="334.6" r="4.5"/><circle cx="166.6" cy="334.6" r="4.5"/><circle cx="168.9" cy="334.4" r="4.5"/><circle cx="171.2" cy="334.2" r="4.5"/><circle cx="173.5" cy="334.0" r="4.5"/><circle cx="175.8" cy="333.7" r="4.5"/><circle cx="178.1" cy="333.3" r="4.5"/><circle cx="180.4" cy="332.9" r="4.5"/><circle cx="182.7" cy="332.5" r="4.5"/><circle cx="185.0" cy="331.9" r="4.5"/><circle cx="187.3" cy="331.4" r="4.5"/><circle cx="189.6" cy="330.7" r="4.5"/><circle cx="191.9" cy="330.1" r="4.5"/><circle cx="194.2" cy="329.4" r="4.5"/><circle cx="196.5" cy="328.6" r="4.5"/><circle cx="198.9" cy="327.8" r="4.5"/><circle cx="201.2" cy="326.9" r="4.5"/><circle cx="203.5" cy="326.0" r="4.5"/><circle cx="205.8" cy="325.0" r="4.5"/><circle cx="208.1" cy="323.9" r="4.5"/><circle cx="210.4" cy="322.7" r="4.5"/><circle cx="212.7" cy="321.4" r="4.5"/><circle cx="215.0" cy="320.0" r="4.5"/><circle cx="217.3" cy="318.5" r="4.5"/><circle cx="219.6" cy="316.8" r="4.5"/><circle cx="221.9" cy="315.1" r="4.5"/><circle cx="224.2" cy="313.2" r="4.5"/><circle cx="226.5" cy="311.1" r="4.5"/><circle cx="228.8" cy="308.9" r="4.5"/><circle cx="231.1" cy="306.6" r="4.5"/><circle cx="233.4" cy="304.2" r="4.5"/><circle cx="235.7" cy="301.7" r="4.5"/><circle cx="238.0" cy="299.1" r="4.5"/><circle cx="240.3" cy="296.3" r="4.5"/><circle cx="242.6" cy="293.5" r="4.5"/><circle cx="244.9" cy="290.6" r="4.5"/><circle cx="247.2" cy="287.6" r="4.5"/><circle cx="249.5" cy="284.5" r="4.5"/><circle cx="251.8" cy="281.4" r="4.5"/><circle cx="254.1" cy="278.2" r="4.5"/><circle cx="256.4" cy="275.0" r="4.5"/><circle cx="258.7" cy="271.8" r="4.5"/><circle cx="261.0" cy="268.5" r="4.5"/><circle cx="263.3" cy="265.3" r="4.5"/><circle cx="265.6" cy="262.1" r="4.5"/><circle cx="267.9" cy="258.9" r="4.5"/><circle cx="270.2" cy="255.8" r="4.5"/><circle cx="272.5" cy="252.8" r="4.5"/><circle cx="274.8" cy="249.8" r="4.5"/><circle cx="277.1" cy="246.9" r="4.5"/><circle cx="279.4" cy="244.1" r="4.5"/><circle cx="281.7" cy="241.4" r="4.5"/><circle cx="284.0" cy="238.6" r="4.5"/><circle cx="286.3" cy="235.9" r="4.5"/><circle cx="288.6" cy="233.1" r="4.5"/><circle cx="290.9" cy="230.3" r="4.5"/><circle cx="293.2" cy="227.5" r="4.5"/><circle cx="295.5" cy="224.6" r="4.5"/><circle cx="297.8" cy="221.6" r="4.5"/><circle cx="300.1" cy="218.5" r="4.5"/><circle cx="302.4" cy="215.2" r="4.5"/><circle cx="304.7" cy="211.9" r="4.5"/><circle cx="307.0" cy="208.6" r="4.5"/><circle cx="309.3" cy="205.2" r="4.5"/><circle cx="311.6" cy="201.8" r="4.5"/><circle cx="313.9" cy="198.4" r="4.5"/><circle cx="316.2" cy="195.1" r="4.5"/><circle cx="318.5" cy="191.8" r="4.5"/><circle cx="320.8" cy="188.7" r="4.5"/><circle cx="323.1" cy="185.6" r="4.5"/><circle cx="325.4" cy="182.9" r="4.5"/><circle cx="327.7" cy="180.4" r="4.5"/><circle cx="330.0" cy="178.4" r="4.5"/><circle cx="332.3" cy="176.8" r="4.5"/><circle cx="334.6" cy="175.8" r="4.5"/><circle cx="336.9" cy="175.3" r="4.5"/><circle cx="339.2" cy="175.5" r="4.5"/><circle cx="341.5" cy="176.4" r="4.5"/><circle cx="343.8" cy="178.0" r="4.5"/><circle cx="346.1" cy="180.4" r="4.5"/><circle cx="348.4" cy="183.5" r="4.5"/><circle cx="350.7" cy="187.3" r="4.5"/><circle cx="353.0" cy="191.5" r="4.5"/><circle cx="355.3" cy="196.2" r="4.5"/><circle cx="357.6" cy="201.2" r="4.5"/><circle cx="359.9" cy="206.4" r="4.5"/><circle cx="362.2" cy="211.8" r="4.5"/><circle cx="364.5" cy="217.4" r="4.5"/><circle cx="366.8" cy="223.2" r="4.5"/><circle cx="369.1" cy="229.2" r="4.5"/><circle cx="371.4" cy="235.3" r="4.5"/><circle cx="373.7" cy="241.6" r="4.5"/><circle cx="376.0" cy="248.0" r="4.5"/><circle cx="378.3" cy="254.4" r="4.5"/><circle cx="380.6" cy="260.8" r="4.5"/><circle cx="382.9" cy="267.0" r="4.5"/><circle cx="385.2" cy="273.0" r="4.5"/><circle cx="387.5" cy="278.7" r="4.5"/><circle cx="389.8" cy="284.1" r="4.5"/><circle cx="392.2" cy="289.0" r="4.5"/><circle cx="394.5" cy="293.4" r="4.5"/><circle cx="396.8" cy="297.5" r="4.5"/><circle cx="399.1" cy="301.2" r="4.5"/><circle cx="401.4" cy="304.7" r="4.5"/><circle cx="403.7" cy="307.8" r="4.5"/><circle cx="406.0" cy="310.7" r="4.5"/><circle cx="408.3" cy="313.5" r="4.5"/><circle cx="410.6" cy="316.0" r="4.5"/><circle cx="412.9" cy="318.5" r="4.5"/><circle cx="415.2" cy="320.8" r="4.5"/><circle cx="417.5" cy="323.1" r="4.5"/><circle cx="419.8" cy="325.2" r="4.5"/><circle cx="422.1" cy="327.2" r="4.5"/><circle cx="424.4" cy="329.2" r="4.5"/><circle cx="426.7" cy="331.1" r="4.5"/><circle cx="429.0" cy="332.9" r="4.5"/><circle cx="431.3" cy="334.6" r="4.5"/><circle cx="433.6" cy="336.3" r="4.5"/><circle cx="435.9" cy="337.9" r="4.5"/><circle cx="438.2" cy="339.5" r="4.5"/><circle cx="440.5" cy="341.0" r="4.5"/><circle cx="442.8" cy="342.5" r="4.5"/><circle cx="445.1" cy="343.9" r="4.5"/><circle cx="447.4" cy="345.3" r="4.5"/><circle cx="449.7" cy="346.6" r="4.5"/><circle cx="452.0" cy="347.9" r="4.5"/><circle cx="454.3" cy="349.1" r="4.5"/><circle cx="456.6" cy="350.2" r="4.5"/><circle cx="458.9" cy="351.3" r="4.5"/><circle cx="461.2" cy="352.3" r="4.5"/><circle cx="463.5" cy="353.3" r="4.5"/><circle cx="465.8" cy="354.1" r="4.5"/><circle cx="468.1" cy="354.9" r="4.5"/><circle cx="470.4" cy="355.7" r="4.5"/><circle cx="472.7" cy="356.4" r="4.5"/><circle cx="475.0" cy="357.0" r="4.5"/><circle cx="477.3" cy="357.5" r="4.5"/><circle cx="479.6" cy="358.0" r="4.5"/><circle cx="481.9" cy="358.5" r="4.5"/><circle cx="484.2" cy="358.9" r="4.5"/><circle cx="486.5" cy="359.3" r="4.5"/><circle cx="488.8" cy="359.6" r="4.5"/><circle cx="491.1" cy="359.9" r="4.5"/><circle cx="493.4" cy="360.2" r="4.5"/><circle cx="495.7" cy="360.5" r="4.5"/><circle cx="498.0" cy="360.7" r="4.5"/><circle cx="500.3" cy="360.9" r="4.5"/><circle cx="502.6" cy="361.1" r="4.5"/><circle cx="504.9" cy="361.3" r="4.5"/><circle cx="507.2" cy="361.4" r="4.5"/><circle cx="509.5" cy="361.6" r="4.5"/><circle cx="511.8" cy="361.8" r="4.5"/><circle cx="514.1" cy="361.9" r="4.5"/><circle cx="516.4" cy="362.1" r="4.5"/><circle cx="518.7" cy="362.2" r="4.5"/><circle cx="521.0" cy="362.4" r="4.5"/><circle cx="523.3" cy="362.5" r="4.5"/><circle cx="525.6" cy="362.7" r="4.5"/><circle cx="527.9" cy="362.8" r="4.5"/><circle cx="530.2" cy="363.0" r="4.5"/><circle cx="532.5" cy="363.1" r="4.5"/><circle cx="534.8" cy="363.3" r="4.5"/><circle cx="537.1" cy="363.4" r="4.5"/><circle cx="539.4" cy="363.6" r="4.5"/><circle cx="541.7" cy="363.7" r="4.5"/><circle cx="544.0" cy="363.8" r="4.5"/><circle cx="546.3" cy="364.0" r="4.5"/><circle cx="548.6" cy="364.1" r="4.5"/><circle cx="550.9" cy="364.2" r="4.5"/><circle cx="553.2" cy="364.3" r="4.5"/><circle cx="555.5" cy="364.4" r="4.5"/><circle cx="557.8" cy="364.5" r="4.5"/><circle cx="560.1" cy="364.6" r="4.5"/><circle cx="562.4" cy="364.7" r="4.5"/><circle cx="564.7" cy="364.8" r="4.5"/><circle cx="567.0" cy="364.9" r="4.5"/><circle cx="569.3" cy="365.0" r="4.5"/><circle cx="571.6" cy="365.1" r="4.5"/><circle cx="573.9" cy="365.2" r="4.5"/><circle cx="576.2" cy="365.2" r="4.5"/><circle cx="578.5" cy="365.3" r="4.5"/><circle cx="580.8" cy="365.4" r="4.5"/><circle cx="583.2" cy="365.4" r="4.5"/><circle cx="585.5" cy="365.5" r="4.5"/><circle cx="587.8" cy="365.5" r="4.5"/><circle cx="590.1" cy="365.5" r="4.5"/><circle cx="592.4" cy="365.6" r="4.5"/><circle cx="594.7" cy="365.6" r="4.5"/><circle cx="597.0" cy="365.6" r="4.5"/><circle cx="599.3" cy="365.7" r="4.5"/><circle cx="601.6" cy="365.7" r="4.5"/><circle cx="603.9" cy="365.7" r="4.5"/><circle cx="606.2" cy="365.7" r="4.5"/><circle cx="608.5" cy="365.7" r="4.5"/><circle cx="610.8" cy="365.7" r="4.5"/><circle cx="613.1" cy="365.7" r="4.5"/><circle cx="615.4" cy="365.7" r="4.5"/><circle cx="617.7" cy="365.7" r="4.5"/><circle cx="620.0" cy="365.7" r="4.5"/><circle cx="622.3" cy="365.7" r="4.5"/><circle cx="624.6" cy="365.7" r="4.5"/><circle cx="626.9" cy="365.7" r="4.5"/><circle cx="629.2" cy="365.7" r="4.5"/><circle cx="631.5" cy="365.7" r="4.5"/><circle cx="633.8" cy="365.7" r="4.5"/><circle cx="636.1" cy="365.7" r="4.5"/><circle cx="638.4" cy="365.7" r="4.5"/><circle cx="640.7" cy="365.7" r="4.5"/><circle cx="643.0" cy="365.7" r="4.5"/><circle cx="645.3" cy="365.7" r="4.5"/><circle cx="647.6" cy="365.7" r="4.5"/><circle cx="649.9" cy="365.7" r="4.5"/><circle cx="652.2" cy="365.7" r="4.5"/><circle cx="654.5" cy="365.7" r="4.5"/><circle cx="656.8" cy="365.7" r="4.5"/><circle cx="659.1" cy="365.8" r="4.5"/><circle cx="661.4" cy="365.8" r="4.5"/><circle cx="663.7" cy="365.8" r="4.5"/><circle cx="666.0" cy="365.8" r="4.5"/><circle cx="668.3" cy="365.9" r="4.5"/><circle cx="670.6" cy="365.9" r="4.5"/><circle cx="672.9" cy="365.9" r="4.5"/><circle cx="675.2" cy="366.0" r="4.5"/><circle cx="677.5" cy="366.0" r="4.5"/></g><g fill="#5B9BD5"><circle cx="102.2" cy="304.3" r="4.5"/><circle cx="104.5" cy="305.2" r="4.5"/><circle cx="106.8" cy="306.2" r="4.5"/><circle cx="109.1" cy="307.2" r="4.5"/><circle cx="111.4" cy="308.1" r="4.5"/><circle cx="113.7" cy="309.0" r="4.5"/><circle cx="116.0" cy="309.9" r="4.5"/><circle cx="118.3" cy="310.8" r="4.5"/><circle cx="120.6" cy="311.6" r="4.5"/><circle cx="122.9" cy="312.4" r="4.5"/><circle cx="125.2" cy="313.2" r="4.5"/><circle cx="127.5" cy="313.9" r="4.5"/><circle cx="129.8" cy="314.7" r="4.5"/><circle cx="132.1" cy="315.3" r="4.5"/><circle cx="134.4" cy="316.0" r="4.5"/><circle cx="136.7" cy="316.6" r="4.5"/><circle cx="139.0" cy="317.2" r="4.5"/><circle cx="141.3" cy="317.7" r="4.5"/><circle cx="143.6" cy="318.2" r="4.5"/><circle cx="145.9" cy="318.7" r="4.5"/><circle cx="148.2" cy="319.1" r="4.5"/><circle cx="150.5" cy="319.4" r="4.5"/><circle cx="152.8" cy="319.7" r="4.5"/><circle cx="155.1" cy="319.9" r="4.5"/><circle cx="157.4" cy="320.1" r="4.5"/><circle cx="159.7" cy="320.2" r="4.5"/><circle cx="162.0" cy="320.3" r="4.5"/><circle cx="164.3" cy="320.2" r="4.5"/><circle cx="166.6" cy="320.2" r="4.5"/><circle cx="168.9" cy="320.0" r="4.5"/><circle cx="171.2" cy="319.8" r="4.5"/><circle cx="173.5" cy="319.4" r="4.5"/><circle cx="175.8" cy="319.1" r="4.5"/><circle cx="178.1" cy="318.6" r="4.5"/><circle cx="180.4" cy="318.0" r="4.5"/><circle cx="182.7" cy="317.4" r="4.5"/><circle cx="185.0" cy="316.7" r="4.5"/><circle cx="187.3" cy="315.9" r="4.5"/><circle cx="189.6" cy="315.1" r="4.5"/><circle cx="191.9" cy="314.2" r="4.5"/><circle cx="194.2" cy="313.1" r="4.5"/><circle cx="196.5" cy="312.0" r="4.5"/><circle cx="198.9" cy="310.8" r="4.5"/><circle cx="201.2" cy="309.6" r="4.5"/><circle cx="203.5" cy="308.2" r="4.5"/><circle cx="205.8" cy="306.7" r="4.5"/><circle cx="208.1" cy="305.1" r="4.5"/><circle cx="210.4" cy="303.4" r="4.5"/><circle cx="212.7" cy="301.6" r="4.5"/><circle cx="215.0" cy="299.7" r="4.5"/><circle cx="217.3" cy="297.7" r="4.5"/><circle cx="219.6" cy="295.5" r="4.5"/><circle cx="221.9" cy="293.2" r="4.5"/><circle cx="224.2" cy="290.7" r="4.5"/><circle cx="226.5" cy="288.2" r="4.5"/><circle cx="228.8" cy="285.5" r="4.5"/><circle cx="231.1" cy="282.6" r="4.5"/><circle cx="233.4" cy="279.6" r="4.5"/><circle cx="235.7" cy="276.5" r="4.5"/><circle cx="238.0" cy="273.3" r="4.5"/><circle cx="240.3" cy="269.9" r="4.5"/><circle cx="242.6" cy="266.4" r="4.5"/><circle cx="244.9" cy="262.7" r="4.5"/><circle cx="247.2" cy="259.0" r="4.5"/><circle cx="249.5" cy="255.0" r="4.5"/><circle cx="251.8" cy="251.0" r="4.5"/><circle cx="254.1" cy="246.9" r="4.5"/><circle cx="256.4" cy="242.7" r="4.5"/><circle cx="258.7" cy="238.5" r="4.5"/><circle cx="261.0" cy="234.2" r="4.5"/><circle cx="263.3" cy="230.0" r="4.5"/><circle cx="265.6" cy="225.7" r="4.5"/><circle cx="267.9" cy="221.5" r="4.5"/><circle cx="270.2" cy="217.4" r="4.5"/><circle cx="272.5" cy="213.4" r="4.5"/><circle cx="274.8" cy="209.5" r="4.5"/><circle cx="277.1" cy="205.7" r="4.5"/><circle cx="279.4" cy="201.9" r="4.5"/><circle cx="281.7" cy="198.3" r="4.5"/><circle cx="284.0" cy="194.7" r="4.5"/><circle cx="286.3" cy="191.0" r="4.5"/><circle cx="288.6" cy="187.4" r="4.5"/><circle cx="290.9" cy="183.7" r="4.5"/><circle cx="293.2" cy="179.9" r="4.5"/><circle cx="295.5" cy="175.9" r="4.5"/><circle cx="297.8" cy="171.9" r="4.5"/><circle cx="300.1" cy="167.6" r="4.5"/><circle cx="302.4" cy="163.3" r="4.5"/><circle cx="304.7" cy="158.8" r="4.5"/><circle cx="307.0" cy="154.2" r="4.5"/><circle cx="309.3" cy="149.6" r="4.5"/><circle cx="311.6" cy="145.0" r="4.5"/><circle cx="313.9" cy="140.4" r="4.5"/><circle cx="316.2" cy="135.9" r="4.5"/><circle cx="318.5" cy="131.5" r="4.5"/><circle cx="320.8" cy="127.3" r="4.5"/><circle cx="323.1" cy="123.3" r="4.5"/><circle cx="325.4" cy="119.7" r="4.5"/><circle cx="327.7" cy="116.6" r="4.5"/><circle cx="330.0" cy="114.0" r="4.5"/><circle cx="332.3" cy="112.1" r="4.5"/><circle cx="334.6" cy="110.9" r="4.5"/><circle cx="336.9" cy="110.6" r="4.5"/><circle cx="339.2" cy="111.1" r="4.5"/><circle cx="341.5" cy="112.6" r="4.5"/><circle cx="343.8" cy="115.1" r="4.5"/><circle cx="346.1" cy="118.6" r="4.5"/><circle cx="348.4" cy="123.1" r="4.5"/><circle cx="350.7" cy="128.4" r="4.5"/><circle cx="353.0" cy="134.2" r="4.5"/><circle cx="355.3" cy="140.6" r="4.5"/><circle cx="357.6" cy="147.3" r="4.5"/><circle cx="359.9" cy="154.3" r="4.5"/><circle cx="362.2" cy="161.4" r="4.5"/><circle cx="364.5" cy="168.6" r="4.5"/><circle cx="366.8" cy="176.1" r="4.5"/><circle cx="369.1" cy="183.7" r="4.5"/><circle cx="371.4" cy="191.5" r="4.5"/><circle cx="373.7" cy="199.5" r="4.5"/><circle cx="376.0" cy="207.6" r="4.5"/><circle cx="378.3" cy="215.7" r="4.5"/><circle cx="380.6" cy="223.7" r="4.5"/><circle cx="382.9" cy="231.6" r="4.5"/><circle cx="385.2" cy="239.2" r="4.5"/><circle cx="387.5" cy="246.5" r="4.5"/><circle cx="389.8" cy="253.4" r="4.5"/><circle cx="392.2" cy="259.7" r="4.5"/><circle cx="394.5" cy="265.6" r="4.5"/><circle cx="396.8" cy="270.9" r="4.5"/><circle cx="399.1" cy="275.9" r="4.5"/><circle cx="401.4" cy="280.5" r="4.5"/><circle cx="403.7" cy="284.7" r="4.5"/><circle cx="406.0" cy="288.7" r="4.5"/><circle cx="408.3" cy="292.4" r="4.5"/><circle cx="410.6" cy="295.8" r="4.5"/><circle cx="412.9" cy="299.1" r="4.5"/><circle cx="415.2" cy="302.2" r="4.5"/><circle cx="417.5" cy="305.1" r="4.5"/><circle cx="419.8" cy="307.9" r="4.5"/><circle cx="422.1" cy="310.6" r="4.5"/><circle cx="424.4" cy="313.1" r="4.5"/><circle cx="426.7" cy="315.6" r="4.5"/><circle cx="429.0" cy="317.9" r="4.5"/><circle cx="431.3" cy="320.1" r="4.5"/><circle cx="433.6" cy="322.3" r="4.5"/><circle cx="435.9" cy="324.5" r="4.5"/><circle cx="438.2" cy="326.6" r="4.5"/><circle cx="440.5" cy="328.6" r="4.5"/><circle cx="442.8" cy="330.6" r="4.5"/><circle cx="445.1" cy="332.5" r="4.5"/><circle cx="447.4" cy="334.3" r="4.5"/><circle cx="449.7" cy="336.1" r="4.5"/><circle cx="452.0" cy="337.8" r="4.5"/><circle cx="454.3" cy="339.4" r="4.5"/><circle cx="456.6" cy="340.9" r="4.5"/><circle cx="458.9" cy="342.4" r="4.5"/><circle cx="461.2" cy="343.7" r="4.5"/><circle cx="463.5" cy="345.0" r="4.5"/><circle cx="465.8" cy="346.1" r="4.5"/><circle cx="468.1" cy="347.1" r="4.5"/><circle cx="470.4" cy="348.1" r="4.5"/><circle cx="472.7" cy="348.9" r="4.5"/><circle cx="475.0" cy="349.7" r="4.5"/><circle cx="477.3" cy="350.3" r="4.5"/><circle cx="479.6" cy="350.9" r="4.5"/><circle cx="481.9" cy="351.4" r="4.5"/><circle cx="484.2" cy="351.9" r="4.5"/><circle cx="486.5" cy="352.3" r="4.5"/><circle cx="488.8" cy="352.7" r="4.5"/><circle cx="491.1" cy="353.0" r="4.5"/><circle cx="493.4" cy="353.2" r="4.5"/><circle cx="495.7" cy="353.5" r="4.5"/><circle cx="498.0" cy="353.7" r="4.5"/><circle cx="500.3" cy="353.8" r="4.5"/><circle cx="502.6" cy="354.0" r="4.5"/><circle cx="504.9" cy="354.2" r="4.5"/><circle cx="507.2" cy="354.3" r="4.5"/><circle cx="509.5" cy="354.5" r="4.5"/><circle cx="511.8" cy="354.7" r="4.5"/><circle cx="514.1" cy="354.8" r="4.5"/><circle cx="516.4" cy="355.0" r="4.5"/><circle cx="518.7" cy="355.2" r="4.5"/><circle cx="521.0" cy="355.4" r="4.5"/><circle cx="523.3" cy="355.7" r="4.5"/><circle cx="525.6" cy="355.9" r="4.5"/><circle cx="527.9" cy="356.1" r="4.5"/><circle cx="530.2" cy="356.3" r="4.5"/><circle cx="532.5" cy="356.6" r="4.5"/><circle cx="534.8" cy="356.8" r="4.5"/><circle cx="537.1" cy="357.0" r="4.5"/><circle cx="539.4" cy="357.3" r="4.5"/><circle cx="541.7" cy="357.5" r="4.5"/><circle cx="544.0" cy="357.7" r="4.5"/><circle cx="546.3" cy="358.0" r="4.5"/><circle cx="548.6" cy="358.2" r="4.5"/><circle cx="550.9" cy="358.4" r="4.5"/><circle cx="553.2" cy="358.6" r="4.5"/><circle cx="555.5" cy="358.8" r="4.5"/><circle cx="557.8" cy="359.0" r="4.5"/><circle cx="560.1" cy="359.2" r="4.5"/><circle cx="562.4" cy="359.4" r="4.5"/><circle cx="564.7" cy="359.6" r="4.5"/><circle cx="567.0" cy="359.8" r="4.5"/><circle cx="569.3" cy="359.9" r="4.5"/><circle cx="571.6" cy="360.0" r="4.5"/><circle cx="573.9" cy="360.2" r="4.5"/><circle cx="576.2" cy="360.3" r="4.5"/><circle cx="578.5" cy="360.4" r="4.5"/><circle cx="580.8" cy="360.4" r="4.5"/><circle cx="583.2" cy="360.5" r="4.5"/><circle cx="585.5" cy="360.5" r="4.5"/><circle cx="587.8" cy="360.6" r="4.5"/><circle cx="590.1" cy="360.6" r="4.5"/><circle cx="592.4" cy="360.6" r="4.5"/><circle cx="594.7" cy="360.6" r="4.5"/><circle cx="597.0" cy="360.5" r="4.5"/><circle cx="599.3" cy="360.5" r="4.5"/><circle cx="601.6" cy="360.5" r="4.5"/><circle cx="603.9" cy="360.4" r="4.5"/><circle cx="606.2" cy="360.4" r="4.5"/><circle cx="608.5" cy="360.3" r="4.5"/><circle cx="610.8" cy="360.2" r="4.5"/><circle cx="613.1" cy="360.2" r="4.5"/><circle cx="615.4" cy="360.1" r="4.5"/><circle cx="617.7" cy="360.0" r="4.5"/><circle cx="620.0" cy="359.9" r="4.5"/><circle cx="622.3" cy="359.8" r="4.5"/><circle cx="624.6" cy="359.7" r="4.5"/><circle cx="626.9" cy="359.7" r="4.5"/><circle cx="629.2" cy="359.6" r="4.5"/><circle cx="631.5" cy="359.5" r="4.5"/><circle cx="633.8" cy="359.4" r="4.5"/><circle cx="636.1" cy="359.4" r="4.5"/><circle cx="638.4" cy="359.3" r="4.5"/><circle cx="640.7" cy="359.3" r="4.5"/><circle cx="643.0" cy="359.2" r="4.5"/><circle cx="645.3" cy="359.2" r="4.5"/><circle cx="647.6" cy="359.1" r="4.5"/><circle cx="649.9" cy="359.1" r="4.5"/><circle cx="652.2" cy="359.1" r="4.5"/><circle cx="654.5" cy="359.1" r="4.5"/><circle cx="656.8" cy="359.2" r="4.5"/><circle cx="659.1" cy="359.2" r="4.5"/><circle cx="661.4" cy="359.3" r="4.5"/><circle cx="663.7" cy="359.3" r="4.5"/><circle cx="666.0" cy="359.4" r="4.5"/><circle cx="668.3" cy="359.5" r="4.5"/><circle cx="670.6" cy="359.7" r="4.5"/><circle cx="672.9" cy="359.8" r="4.5"/><circle cx="675.2" cy="360.0" r="4.5"/><circle cx="677.5" cy="360.2" r="4.5"/></g><g fill="#70AD47"><circle cx="102.2" cy="313.2" r="4.5"/><circle cx="104.5" cy="314.0" r="4.5"/><circle cx="106.8" cy="314.8" r="4.5"/><circle cx="109.1" cy="315.5" r="4.5"/><circle cx="111.4" cy="316.3" r="4.5"/><circle cx="113.7" cy="317.0" r="4.5"/><circle cx="116.0" cy="317.7" r="4.5"/><circle cx="118.3" cy="318.4" r="4.5"/><circle cx="120.6" cy="319.1" r="4.5"/><circle cx="122.9" cy="319.7" r="4.5"/><circle cx="125.2" cy="320.3" r="4.5"/><circle cx="127.5" cy="320.9" r="4.5"/><circle cx="129.8" cy="321.4" r="4.5"/><circle cx="132.1" cy="321.9" r="4.5"/><circle cx="134.4" cy="322.3" r="4.5"/><circle cx="136.7" cy="322.6" r="4.5"/><circle cx="139.0" cy="322.9" r="4.5"/><circle cx="141.3" cy="323.1" r="4.5"/><circle cx="143.6" cy="323.3" r="4.5"/><circle cx="145.9" cy="323.4" r="4.5"/><circle cx="148.2" cy="323.4" r="4.5"/><circle cx="150.5" cy="323.4" r="4.5"/><circle cx="152.8" cy="323.4" r="4.5"/><circle cx="155.1" cy="323.3" r="4.5"/><circle cx="157.4" cy="323.2" r="4.5"/><circle cx="159.7" cy="323.0" r="4.5"/><circle cx="162.0" cy="322.8" r="4.5"/><circle cx="164.3" cy="322.5" r="4.5"/><circle cx="166.6" cy="322.2" r="4.5"/><circle cx="168.9" cy="321.9" r="4.5"/><circle cx="171.2" cy="321.5" r="4.5"/><circle cx="173.5" cy="321.0" r="4.5"/><circle cx="175.8" cy="320.5" r="4.5"/><circle cx="178.1" cy="319.8" r="4.5"/><circle cx="180.4" cy="319.0" r="4.5"/><circle cx="182.7" cy="318.1" r="4.5"/><circle cx="185.0" cy="317.1" r="4.5"/><circle cx="187.3" cy="316.0" r="4.5"/><circle cx="189.6" cy="314.6" r="4.5"/><circle cx="191.9" cy="313.1" r="4.5"/><circle cx="194.2" cy="311.4" r="4.5"/><circle cx="196.5" cy="309.5" r="4.5"/><circle cx="198.9" cy="307.4" r="4.5"/><circle cx="201.2" cy="305.2" r="4.5"/><circle cx="203.5" cy="302.7" r="4.5"/><circle cx="205.8" cy="300.2" r="4.5"/><circle cx="208.1" cy="297.5" r="4.5"/><circle cx="210.4" cy="294.6" r="4.5"/><circle cx="212.7" cy="291.7" r="4.5"/><circle cx="215.0" cy="288.7" r="4.5"/><circle cx="217.3" cy="285.6" r="4.5"/><circle cx="219.6" cy="282.5" r="4.5"/><circle cx="221.9" cy="279.3" r="4.5"/><circle cx="224.2" cy="276.2" r="4.5"/><circle cx="226.5" cy="272.9" r="4.5"/><circle cx="228.8" cy="269.6" r="4.5"/><circle cx="231.1" cy="266.2" r="4.5"/><circle cx="233.4" cy="262.8" r="4.5"/><circle cx="235.7" cy="259.1" r="4.5"/><circle cx="238.0" cy="255.3" r="4.5"/><circle cx="240.3" cy="251.4" r="4.5"/><circle cx="242.6" cy="247.2" r="4.5"/><circle cx="244.9" cy="242.8" r="4.5"/><circle cx="247.2" cy="238.1" r="4.5"/><circle cx="249.5" cy="233.2" r="4.5"/><circle cx="251.8" cy="228.0" r="4.5"/><circle cx="254.1" cy="222.6" r="4.5"/><circle cx="256.4" cy="217.1" r="4.5"/><circle cx="258.7" cy="211.4" r="4.5"/><circle cx="261.0" cy="205.7" r="4.5"/><circle cx="263.3" cy="199.9" r="4.5"/><circle cx="265.6" cy="194.2" r="4.5"/><circle cx="267.9" cy="188.5" r="4.5"/><circle cx="270.2" cy="182.9" r="4.5"/><circle cx="272.5" cy="177.5" r="4.5"/><circle cx="274.8" cy="172.3" r="4.5"/><circle cx="277.1" cy="167.4" r="4.5"/><circle cx="279.4" cy="162.6" r="4.5"/><circle cx="281.7" cy="157.9" r="4.5"/><circle cx="284.0" cy="153.3" r="4.5"/><circle cx="286.3" cy="148.8" r="4.5"/><circle cx="288.6" cy="144.2" r="4.5"/><circle cx="290.9" cy="139.6" r="4.5"/><circle cx="293.2" cy="134.9" r="4.5"/><circle cx="295.5" cy="130.1" r="4.5"/><circle cx="297.8" cy="125.1" r="4.5"/><circle cx="300.1" cy="119.9" r="4.5"/><circle cx="302.4" cy="114.5" r="4.5"/><circle cx="304.7" cy="109.0" r="4.5"/><circle cx="307.0" cy="103.4" r="4.5"/><circle cx="309.3" cy="97.7" r="4.5"/><circle cx="311.6" cy="92.1" r="4.5"/><circle cx="313.9" cy="86.5" r="4.5"/><circle cx="316.2" cy="81.0" r="4.5"/><circle cx="318.5" cy="75.7" r="4.5"/><circle cx="320.8" cy="70.7" r="4.5"/><circle cx="323.1" cy="66.0" r="4.5"/><circle cx="325.4" cy="61.7" r="4.5"/><circle cx="327.7" cy="57.9" r="4.5"/><circle cx="330.0" cy="54.8" r="4.5"/><circle cx="332.3" cy="52.5" r="4.5"/><circle cx="334.6" cy="51.0" r="4.5"/><circle cx="336.9" cy="50.5" r="4.5"/><circle cx="339.2" cy="51.1" r="4.5"/><circle cx="341.5" cy="52.7" r="4.5"/><circle cx="343.8" cy="55.6" r="4.5"/><circle cx="346.1" cy="59.8" r="4.5"/><circle cx="348.4" cy="65.1" r="4.5"/><circle cx="350.7" cy="71.4" r="4.5"/><circle cx="353.0" cy="78.6" r="4.5"/><circle cx="355.3" cy="86.4" r="4.5"/><circle cx="357.6" cy="94.8" r="4.5"/><circle cx="359.9" cy="103.6" r="4.5"/><circle cx="362.2" cy="112.7" r="4.5"/><circle cx="364.5" cy="122.1" r="4.5"/><circle cx="366.8" cy="131.7" r="4.5"/><circle cx="369.1" cy="141.4" r="4.5"/><circle cx="371.4" cy="151.4" r="4.5"/><circle cx="373.7" cy="161.4" r="4.5"/><circle cx="376.0" cy="171.4" r="4.5"/><circle cx="378.3" cy="181.4" r="4.5"/><circle cx="380.6" cy="191.2" r="4.5"/><circle cx="382.9" cy="200.8" r="4.5"/><circle cx="385.2" cy="210.0" r="4.5"/><circle cx="387.5" cy="218.9" r="4.5"/><circle cx="389.8" cy="227.3" r="4.5"/><circle cx="392.2" cy="235.1" r="4.5"/><circle cx="394.5" cy="242.3" r="4.5"/><circle cx="396.8" cy="249.1" r="4.5"/><circle cx="399.1" cy="255.4" r="4.5"/><circle cx="401.4" cy="261.3" r="4.5"/><circle cx="403.7" cy="266.8" r="4.5"/><circle cx="406.0" cy="271.9" r="4.5"/><circle cx="408.3" cy="276.7" r="4.5"/><circle cx="410.6" cy="281.3" r="4.5"/><circle cx="412.9" cy="285.6" r="4.5"/><circle cx="415.2" cy="289.7" r="4.5"/><circle cx="417.5" cy="293.6" r="4.5"/><circle cx="419.8" cy="297.3" r="4.5"/><circle cx="422.1" cy="300.9" r="4.5"/><circle cx="424.4" cy="304.2" r="4.5"/><circle cx="426.7" cy="307.4" r="4.5"/><circle cx="429.0" cy="310.4" r="4.5"/><circle cx="431.3" cy="313.3" r="4.5"/><circle cx="433.6" cy="316.1" r="4.5"/><circle cx="435.9" cy="318.7" r="4.5"/><circle cx="438.2" cy="321.3" r="4.5"/><circle cx="440.5" cy="323.7" r="4.5"/><circle cx="442.8" cy="326.0" r="4.5"/><circle cx="445.1" cy="328.3" r="4.5"/><circle cx="447.4" cy="330.4" r="4.5"/><circle cx="449.7" cy="332.4" r="4.5"/><circle cx="452.0" cy="334.4" r="4.5"/><circle cx="454.3" cy="336.2" r="4.5"/><circle cx="456.6" cy="337.9" r="4.5"/><circle cx="458.9" cy="339.6" r="4.5"/><circle cx="461.2" cy="341.1" r="4.5"/><circle cx="463.5" cy="342.6" r="4.5"/><circle cx="465.8" cy="343.9" r="4.5"/><circle cx="468.1" cy="345.2" r="4.5"/><circle cx="470.4" cy="346.4" r="4.5"/><circle cx="472.7" cy="347.5" r="4.5"/><circle cx="475.0" cy="348.5" r="4.5"/><circle cx="477.3" cy="349.4" r="4.5"/><circle cx="479.6" cy="350.3" r="4.5"/><circle cx="481.9" cy="351.1" r="4.5"/><circle cx="484.2" cy="351.9" r="4.5"/><circle cx="486.5" cy="352.6" r="4.5"/><circle cx="488.8" cy="353.2" r="4.5"/><circle cx="491.1" cy="353.8" r="4.5"/><circle cx="493.4" cy="354.3" r="4.5"/><circle cx="495.7" cy="354.9" r="4.5"/><circle cx="498.0" cy="355.3" r="4.5"/><circle cx="500.3" cy="355.8" r="4.5"/><circle cx="502.6" cy="356.2" r="4.5"/><circle cx="504.9" cy="356.6" r="4.5"/><circle cx="507.2" cy="356.9" r="4.5"/><circle cx="509.5" cy="357.3" r="4.5"/><circle cx="511.8" cy="357.6" r="4.5"/><circle cx="514.1" cy="357.9" r="4.5"/><circle cx="516.4" cy="358.3" r="4.5"/><circle cx="518.7" cy="358.6" r="4.5"/><circle cx="521.0" cy="358.9" r="4.5"/><circle cx="523.3" cy="359.1" r="4.5"/><circle cx="525.6" cy="359.4" r="4.5"/><circle cx="527.9" cy="359.7" r="4.5"/><circle cx="530.2" cy="360.0" r="4.5"/><circle cx="532.5" cy="360.2" r="4.5"/><circle cx="534.8" cy="360.4" r="4.5"/><circle cx="537.1" cy="360.7" r="4.5"/><circle cx="539.4" cy="360.9" r="4.5"/><circle cx="541.7" cy="361.1" r="4.5"/><circle cx="544.0" cy="361.3" r="4.5"/><circle cx="546.3" cy="361.5" r="4.5"/><circle cx="548.6" cy="361.7" r="4.5"/><circle cx="550.9" cy="361.9" r="4.5"/><circle cx="553.2" cy="362.1" r="4.5"/><circle cx="555.5" cy="362.3" r="4.5"/><circle cx="557.8" cy="362.4" r="4.5"/><circle cx="560.1" cy="362.6" r="4.5"/><circle cx="562.4" cy="362.7" r="4.5"/><circle cx="564.7" cy="362.9" r="4.5"/><circle cx="567.0" cy="363.0" r="4.5"/><circle cx="569.3" cy="363.1" r="4.5"/><circle cx="571.6" cy="363.2" r="4.5"/><circle cx="573.9" cy="363.3" r="4.5"/><circle cx="576.2" cy="363.4" r="4.5"/><circle cx="578.5" cy="363.5" r="4.5"/><circle cx="580.8" cy="363.6" r="4.5"/><circle cx="583.2" cy="363.7" r="4.5"/><circle cx="585.5" cy="363.8" r="4.5"/><circle cx="587.8" cy="363.9" r="4.5"/><circle cx="590.1" cy="364.0" r="4.5"/><circle cx="592.4" cy="364.0" r="4.5"/><circle cx="594.7" cy="364.1" r="4.5"/><circle cx="597.0" cy="364.1" r="4.5"/><circle cx="599.3" cy="364.2" r="4.5"/><circle cx="601.6" cy="364.2" r="4.5"/><circle cx="603.9" cy="364.3" r="4.5"/><circle cx="606.2" cy="364.3" r="4.5"/><circle cx="608.5" cy="364.4" r="4.5"/><circle cx="610.8" cy="364.4" r="4.5"/><circle cx="613.1" cy="364.4" r="4.5"/><circle cx="615.4" cy="364.5" r="4.5"/><circle cx="617.7" cy="364.5" r="4.5"/><circle cx="620.0" cy="364.5" r="4.5"/><circle cx="622.3" cy="364.5" r="4.5"/><circle cx="624.6" cy="364.6" r="4.5"/><circle cx="626.9" cy="364.6" r="4.5"/><circle cx="629.2" cy="364.6" r="4.5"/><circle cx="631.5" cy="364.6" r="4.5"/><circle cx="633.8" cy="364.6" r="4.5"/><circle cx="636.1" cy="364.6" r="4.5"/><circle cx="638.4" cy="364.6" r="4.5"/><circle cx="640.7" cy="364.7" r="4.5"/><circle cx="643.0" cy="364.7" r="4.5"/><circle cx="645.3" cy="364.7" r="4.5"/><circle cx="647.6" cy="364.7" r="4.5"/><circle cx="649.9" cy="364.7" r="4.5"/><circle cx="652.2" cy="364.7" r="4.5"/><circle cx="654.5" cy="364.7" r="4.5"/><circle cx="656.8" cy="364.8" r="4.5"/><circle cx="659.1" cy="364.8" r="4.5"/><circle cx="661.4" cy="364.8" r="4.5"/><circle cx="663.7" cy="364.8" r="4.5"/><circle cx="666.0" cy="364.9" r="4.5"/><circle cx="668.3" cy="364.9" r="4.5"/><circle cx="670.6" cy="364.9" r="4.5"/><circle cx="672.9" cy="364.9" r="4.5"/><circle cx="675.2" cy="365.0" r="4.5"/><circle cx="677.5" cy="365.0" r="4.5"/></g><text x="80.8" y="395.4" font-size="20.5" text-anchor="end" textLength="12" lengthAdjust="spacingAndGlyphs">0</text><text x="80.8" y="333.4" font-size="20.5" text-anchor="end" textLength="28" lengthAdjust="spacingAndGlyphs">0.1</text><text x="80.8" y="271.4" font-size="20.5" text-anchor="end" textLength="28" lengthAdjust="spacingAndGlyphs">0.2</text><text x="80.8" y="209.4" font-size="20.5" text-anchor="end" textLength="28" lengthAdjust="spacingAndGlyphs">0.3</text><text x="80.8" y="147.4" font-size="20.5" text-anchor="end" textLength="28" lengthAdjust="spacingAndGlyphs">0.4</text><text x="80.8" y="85.4" font-size="20.5" text-anchor="end" textLength="28" lengthAdjust="spacingAndGlyphs">0.5</text><text x="80.8" y="23.4" font-size="20.5" text-anchor="end" textLength="28" lengthAdjust="spacingAndGlyphs">0.6</text><text x="102.2" y="426.5" font-size="20.5" text-anchor="middle" textLength="73.5" lengthAdjust="spacingAndGlyphs">3.5E+02</text><text x="217.3" y="426.5" font-size="20.5" text-anchor="middle" textLength="73.5" lengthAdjust="spacingAndGlyphs">4.0E+02</text><text x="332.3" y="426.5" font-size="20.5" text-anchor="middle" textLength="73.5" lengthAdjust="spacingAndGlyphs">4.5E+02</text><text x="447.4" y="426.5" font-size="20.5" text-anchor="middle" textLength="73.5" lengthAdjust="spacingAndGlyphs">5.0E+02</text><text x="562.4" y="426.5" font-size="20.5" text-anchor="middle" textLength="73.5" lengthAdjust="spacingAndGlyphs">5.5E+02</text><text x="677.5" y="426.5" font-size="20.5" text-anchor="middle" textLength="73.5" lengthAdjust="spacingAndGlyphs">6.0E+02</text><text x="396.5" y="451.2" font-size="21.5" text-anchor="middle" font-weight="bold" textLength="172.5" lengthAdjust="spacingAndGlyphs">Wave length (nm)</text><text transform="translate(39.5 208.7) rotate(-90)" font-size="21.5" font-weight="bold" text-anchor="middle" textLength="115" lengthAdjust="spacingAndGlyphs">Absorbance</text><circle cx="570.4" cy="41.5" r="4.5" fill="#4472C4"/><text x="583.0" y="47.8" font-size="20.5" text-anchor="start" textLength="66.8" lengthAdjust="spacingAndGlyphs">control</text><circle cx="570.4" cy="73.0" r="4.5" fill="#ED7D31"/><text x="582.4" y="79.0" font-size="20.5" text-anchor="start" textLength="72.4" lengthAdjust="spacingAndGlyphs">1.2E+02</text><circle cx="570.4" cy="104.6" r="4.5" fill="#A5A5A5"/><text x="582.4" y="110.6" font-size="20.5" text-anchor="start" textLength="72.4" lengthAdjust="spacingAndGlyphs">1.2E+03</text><circle cx="570.4" cy="136.1" r="4.5" fill="#FFC000"/><text x="582.4" y="142.1" font-size="20.5" text-anchor="start" textLength="72.4" lengthAdjust="spacingAndGlyphs">1.2E+04</text><circle cx="570.4" cy="167.8" r="4.5" fill="#5B9BD5"/><text x="582.4" y="173.8" font-size="20.5" text-anchor="start" textLength="72.4" lengthAdjust="spacingAndGlyphs">1.2E+05</text><circle cx="570.4" cy="199.2" r="4.5" fill="#70AD47"/><text x="582.4" y="205.2" font-size="20.5" text-anchor="start" textLength="72.4" lengthAdjust="spacingAndGlyphs">1.2E+06</text><text x="369.8" y="505.3" font-size="21.5" text-anchor="middle"><tspan font-size="25">(</tspan><tspan font-weight="bold">a</tspan><tspan font-size="25">)</tspan></text>
<path d="M87.8 550.2 H700.3 V925.3 H87.8" fill="none" stroke="#000" stroke-width="3"/><line x1="95.8" y1="548.7" x2="95.8" y2="932.8" stroke="#000" stroke-width="3"/><path d="M87.8 925.3H103.3M87.8 850.3H103.3M87.8 775.3H103.3M87.8 700.2H103.3M87.8 625.2H103.3M87.8 550.2H103.3M95.8 887.8H101.8M95.8 812.8H101.8M95.8 737.8H101.8M95.8 662.7H101.8M95.8 587.7H101.8M240.5 917.8V932.8M385.3 917.8V932.8M530.0 917.8V932.8M674.7 917.8V932.8" stroke="#000" stroke-width="3" fill="none"/><path d="M107.3 821.8V839.2M101.8 821.8h11M101.8 839.2h11M252.0 772.5V797.1M246.5 772.5h11M246.5 797.1h11M396.7 733.9V750.6M391.2 733.9h11M391.2 750.6h11M541.4 657.9V680.6M535.9 657.9h11M535.9 680.6h11M686.2 590V598.3M680.7 590h11M680.7 598.3h11" stroke="#474747" stroke-width="2" fill="none"/><circle cx="107.3" cy="829.8" r="4.6" fill="#4472C4"/><circle cx="252.0" cy="784.6" r="4.6" fill="#4472C4"/><circle cx="396.7" cy="742.4" r="4.6" fill="#4472C4"/><circle cx="541.4" cy="669.3" r="4.6" fill="#4472C4"/><circle cx="686.2" cy="594.0" r="4.6" fill="#4472C4"/><line x1="107.3" y1="841.8" x2="686.2" y2="606.1" stroke="#000" stroke-width="1.6"/><text x="69.2" y="931.4" font-size="20.5" text-anchor="end" textLength="28.2" lengthAdjust="spacingAndGlyphs">0.1</text><text x="69.2" y="856.4" font-size="20.5" text-anchor="end" textLength="28.2" lengthAdjust="spacingAndGlyphs">0.2</text><text x="69.2" y="781.4" font-size="20.5" text-anchor="end" textLength="28.2" lengthAdjust="spacingAndGlyphs">0.3</text><text x="69.2" y="706.3" font-size="20.5" text-anchor="end" textLength="28.2" lengthAdjust="spacingAndGlyphs">0.4</text><text x="69.2" y="631.3" font-size="20.5" text-anchor="end" textLength="28.2" lengthAdjust="spacingAndGlyphs">0.5</text><text x="69.2" y="556.3" font-size="20.5" text-anchor="end" textLength="28.2" lengthAdjust="spacingAndGlyphs">0.6</text><text x="95.8" y="963.5" font-size="20.5" text-anchor="middle" textLength="75" lengthAdjust="spacingAndGlyphs">1.0E+02</text><text x="240.5" y="963.5" font-size="20.5" text-anchor="middle" textLength="75" lengthAdjust="spacingAndGlyphs">1.0E+03</text><text x="385.3" y="963.5" font-size="20.5" text-anchor="middle" textLength="75" lengthAdjust="spacingAndGlyphs">1.0E+04</text><text x="530.0" y="963.5" font-size="20.5" text-anchor="middle" textLength="75" lengthAdjust="spacingAndGlyphs">1.0E+05</text><text x="674.7" y="963.5" font-size="20.5" text-anchor="middle" textLength="75" lengthAdjust="spacingAndGlyphs">1.0E+06</text><text x="390.8" y="999.1" font-size="22.6" text-anchor="middle" font-weight="bold" textLength="241" lengthAdjust="spacingAndGlyphs">Concentration (CFU/mL)</text><text transform="translate(25.8 747) rotate(-90)" font-size="21.5" font-weight="bold" text-anchor="middle" textLength="116" lengthAdjust="spacingAndGlyphs">Absorbance</text><text x="505.5" y="786.7" font-size="21.5" text-anchor="middle" font-weight="bold" textLength="212.4" lengthAdjust="spacingAndGlyphs">y = 0.0341ln(x) + 0.0481</text><text x="507.8" y="814.3" font-size="21.5" text-anchor="middle" font-weight="bold" textLength="101" lengthAdjust="spacingAndGlyphs">R² = 0.9822</text><text x="369.6" y="1049" font-size="21.5" text-anchor="middle"><tspan font-size="25">(</tspan><tspan font-weight="bold" font-size="23.5">b</tspan><tspan font-size="25">)</tspan></text>
</svg>
</body></html>
